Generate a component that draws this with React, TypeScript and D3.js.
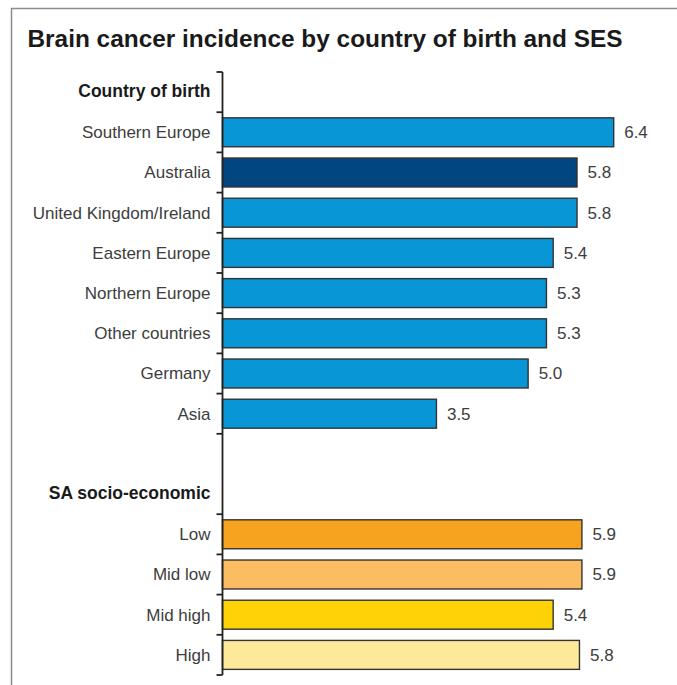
import React from "react";
import * as d3 from "d3";

// ---- Data ----
const countryCategories = [
  "Southern Europe",
  "Australia",
  "United Kingdom/Ireland",
  "Eastern Europe",
  "Northern Europe",
  "Other countries",
  "Germany",
  "Asia",
];
const countryValues = [6.4, 5.8, 5.8, 5.41, 5.3, 5.3, 5.0, 3.5];
const countryColors = ["#0996d7", "#02467f", "#0996d7", "#0996d7", "#0996d7", "#0996d7", "#0996d7", "#0996d7"];

const sesCategories = ["Low", "Mid low", "Mid high", "High"];
const sesValues = [5.88, 5.88, 5.41, 5.84];
const sesColors = ["#f6a320", "#fcbc61", "#fdd207", "#fee89a"];

const groupHeaders = ["Country of birth", "SA socio-economic"];
const title = "Brain cancer incidence by country of birth and SES";

// ---- Layout ----
const W = 677;
const H = 685;
const FONT = "'Liberation Sans', Arial, Helvetica, sans-serif";

type Row = { key: string; kind: "header" | "bar" | "blank"; label?: string; value?: number; color?: string };

const rows: Row[] = [
  { key: "h0", kind: "header", label: groupHeaders[0] },
  ...countryCategories.map((c, i) => ({ key: "c" + i, kind: "bar" as const, label: c, value: countryValues[i], color: countryColors[i] })),
  { key: "blank", kind: "blank" },
  { key: "h1", kind: "header", label: groupHeaders[1] },
  ...sesCategories.map((c, i) => ({ key: "s" + i, kind: "bar" as const, label: c, value: sesValues[i], color: sesColors[i] })),
];

export default function App() {
  const axisX = 222.5;
  const y = d3
    .scaleBand<string>()
    .domain(rows.map((r) => r.key))
    .range([72, 675])
    .padding(0);
  const step = y.step();
  const x = d3.scaleLinear().domain([0, 6.4]).range([axisX, 613.7]);
  const fmt = d3.format(".1f");

  // tick boundaries: all band edges except the one between blank row and second header
  const blankIdx = rows.findIndex((r) => r.kind === "blank");
  const tickYs: number[] = [];
  for (let i = 0; i <= rows.length; i++) {
    if (i === blankIdx + 1) continue;
    tickYs.push(72 + i * step);
  }

  return (
    <div style={{ position: "absolute", left: 0, top: 0 }}>
      <svg width={W} height={H} style={{ display: "block", fontFamily: FONT }}>
        <rect x={0} y={0} width={W} height={H} fill="#ffffff" />
        <rect x={11.5} y={8.5} width={W + 20} height={H + 20} fill="none" stroke="#8c8c8c" strokeWidth={1.5} />
        <text x={27.5} y={46.5} fontSize={24.4} fontWeight="bold" fill="#1a1a1a">
          {title}
        </text>

        {rows.map((r) => {
          const by = y(r.key)!;
          const cy = by + step / 2;
          if (r.kind === "header") {
            return (
              <text key={r.key} x={210.5} y={cy + 5} textAnchor="end" fontSize={17.5} fontWeight="bold" fill="#1a1a1a">
                {r.label}
              </text>
            );
          }
          if (r.kind === "bar") {
            const bh = step * 0.72;
            const x1 = x(r.value!);
            return (
              <g key={r.key}>
                <rect
                  x={axisX}
                  y={cy - bh / 2}
                  width={x1 - axisX}
                  height={bh}
                  fill={r.color}
                  stroke="#333333"
                  strokeWidth={1.4}
                />
                <text x={210.5} y={cy + 5.8} textAnchor="end" fontSize={17} fill="#3d3d3d">
                  {r.label}
                </text>
                <text x={x1 + 10.5} y={cy + 5.8} textAnchor="start" fontSize={17} fill="#3d3d3d">
                  {fmt(r.value!)}
                </text>
              </g>
            );
          }
          return null;
        })}

        <line x1={axisX} x2={axisX} y1={72} y2={675} stroke="#222222" strokeWidth={1.8} />
        {tickYs.map((ty, i) => (
          <line key={i} x1={216.5} x2={axisX} y1={ty} y2={ty} stroke="#222222" strokeWidth={1.8} />
        ))}
      </svg>
    </div>
  );
}
